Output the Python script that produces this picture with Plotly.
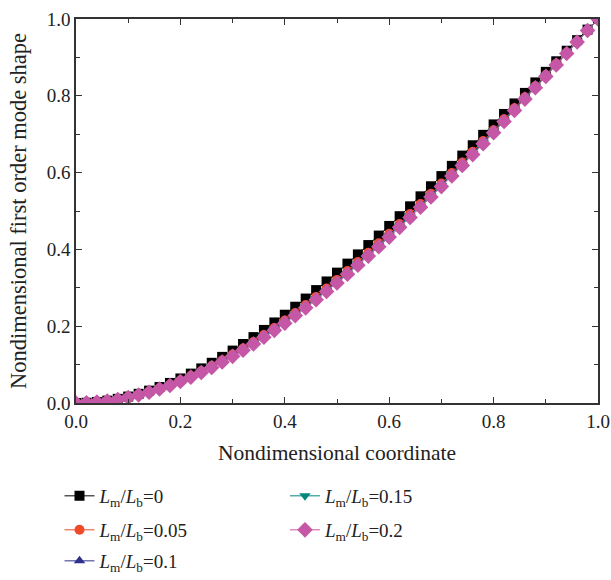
import plotly.graph_objects as go

x_vals = [round(i * 0.02, 2) for i in range(51)]

y_lm_0 = [0.0, 0.0007, 0.0028, 0.0062, 0.0108, 0.0168, 0.0239, 0.0322, 0.0417, 0.0523,
          0.0639, 0.0765, 0.0901, 0.1047, 0.1201, 0.1365, 0.1536, 0.1716, 0.1903, 0.2098,
          0.2299, 0.2507, 0.2720, 0.2940, 0.3165, 0.3395, 0.3630, 0.3870, 0.4113, 0.4360,
          0.4611, 0.4865, 0.5122, 0.5382, 0.5644, 0.5909, 0.6175, 0.6443, 0.6712, 0.6983,
          0.7255, 0.7527, 0.7801, 0.8075, 0.8349, 0.8624, 0.8899, 0.9174, 0.9449, 0.9724, 1.0]

y_lm_005 = [0.0, 0.0006, 0.0025, 0.0056, 0.0098, 0.0152, 0.0217, 0.0293, 0.0380, 0.0477,
            0.0584, 0.0701, 0.0827, 0.0962, 0.1107, 0.1260, 0.1421, 0.1591, 0.1769, 0.1954,
            0.2146, 0.2345, 0.2551, 0.2763, 0.2982, 0.3206, 0.3436, 0.3672, 0.3912, 0.4157,
            0.4407, 0.4661, 0.4920, 0.5183, 0.5448, 0.5717, 0.5990, 0.6265, 0.6542, 0.6822,
            0.7105, 0.7388, 0.7674, 0.7962, 0.8251, 0.8541, 0.8832, 0.9123, 0.9415, 0.9707, 1.0]

y_lm_01 = [0.0, 0.0006, 0.0025, 0.0055, 0.0096, 0.0150, 0.0213, 0.0288, 0.0375, 0.0470,
           0.0576, 0.0691, 0.0816, 0.0950, 0.1093, 0.1245, 0.1405, 0.1573, 0.1749, 0.1933,
           0.2124, 0.2322, 0.2526, 0.2738, 0.2955, 0.3179, 0.3408, 0.3644, 0.3883, 0.4128,
           0.4378, 0.4632, 0.4891, 0.5154, 0.5420, 0.5690, 0.5963, 0.6239, 0.6518, 0.6799,
           0.7083, 0.7369, 0.7656, 0.7946, 0.8237, 0.8529, 0.8822, 0.9116, 0.9410, 0.9705, 1.0]

y_lm_015 = [0.0, 0.0006, 0.0024, 0.0054, 0.0095, 0.0147, 0.0210, 0.0284, 0.0369, 0.0464,
            0.0568, 0.0682, 0.0806, 0.0938, 0.1080, 0.1230, 0.1388, 0.1555, 0.1730, 0.1913,
            0.2102, 0.2299, 0.2502, 0.2712, 0.2929, 0.3152, 0.3381, 0.3615, 0.3855, 0.4099,
            0.4349, 0.4603, 0.4862, 0.5126, 0.5392, 0.5662, 0.5937, 0.6214, 0.6493, 0.6776,
            0.7062, 0.7349, 0.7638, 0.7930, 0.8223, 0.8517, 0.8813, 0.9108, 0.9405, 0.9702, 1.0]

y_lm_02 = [0.0, 0.0006, 0.0024, 0.0053, 0.0093, 0.0145, 0.0207, 0.0280, 0.0364, 0.0457,
           0.0560, 0.0673, 0.0795, 0.0926, 0.1066, 0.1215, 0.1372, 0.1537, 0.1711, 0.1892,
           0.2080, 0.2276, 0.2478, 0.2687, 0.2903, 0.3125, 0.3353, 0.3587, 0.3826, 0.4070,
           0.4320, 0.4574, 0.4833, 0.5097, 0.5364, 0.5635, 0.5910, 0.6188, 0.6469, 0.6753,
           0.7040, 0.7329, 0.7620, 0.7914, 0.8209, 0.8505, 0.8803, 0.9101, 0.9400, 0.9700, 1.0]

series_names = ["<i>L</i><sub>m</sub>/<i>L</i><sub>b</sub>=0",
                "<i>L</i><sub>m</sub>/<i>L</i><sub>b</sub>=0.05",
                "<i>L</i><sub>m</sub>/<i>L</i><sub>b</sub>=0.1",
                "<i>L</i><sub>m</sub>/<i>L</i><sub>b</sub>=0.15",
                "<i>L</i><sub>m</sub>/<i>L</i><sub>b</sub>=0.2"]
series_data = [y_lm_0, y_lm_005, y_lm_01, y_lm_015, y_lm_02]
colors = ["#000000", "#F04A28", "#2E2F8E", "#00877C", "#C557A6"]
symbols = ["square", "circle", "triangle-up", "triangle-down", "diamond"]
sizes = [10, 10, 10, 10, 12]
legend_ids = ["legend", "legend2", "legend3", "legend4", "legend5"]

FONT = "Liberation Serif"

fig = go.Figure()
for i in range(5):
    fig.add_trace(go.Scatter(
        x=x_vals, y=series_data[i], name=series_names[i],
        mode="lines+markers",
        line=dict(color=colors[i], width=1),
        marker=dict(symbol=symbols[i], size=sizes[i], color=colors[i]),
        legend=legend_ids[i], showlegend=True,
    ))

axis_common = dict(
    showline=True, linecolor="#333333", linewidth=1.5, mirror="ticks",
    ticks="inside", ticklen=6, tickwidth=1.2, tickcolor="#333333",
    showgrid=False, zeroline=False, automargin=False,
    tickfont=dict(family=FONT, size=19, color="#222222"),
    minor=dict(ticks="inside", ticklen=4, tickwidth=1.2, tickcolor="#333333", dtick=0.1, showgrid=False),
)

leg_common = dict(font=dict(family=FONT, size=19), bgcolor="rgba(0,0,0,0)", xanchor="left")
col1_x = 0.0974
col2_x = 0.4664

fig.update_layout(
    width=611, height=580,
    showlegend=True,
    margin=dict(l=0, r=0, t=0, b=0),
    plot_bgcolor="white", paper_bgcolor="white",
    font=dict(family=FONT, color="#222222"),
    xaxis=dict(range=[0, 1], dtick=0.2, tick0=0, tickformat=".1f", domain=[0.12439, 0.97872],
               title=dict(text="Nondimensional coordinate", font=dict(family=FONT, size=21.5), standoff=14),
               **axis_common),
    yaxis=dict(range=[0, 1], dtick=0.2, tick0=0, tickformat=".1f", domain=[0.30517, 0.96724],
               title=dict(text="Nondimensional first order mode shape", font=dict(family=FONT, size=22.5), standoff=14),
               **axis_common),
    legend=dict(x=col1_x, y=0.1776, yanchor="top", **leg_common),
    legend2=dict(x=col1_x, y=0.1190, yanchor="top", **leg_common),
    legend3=dict(x=col1_x, y=0.0, yanchor="bottom", **leg_common),
    legend4=dict(x=col2_x, y=0.1776, yanchor="top", **leg_common),
    legend5=dict(x=col2_x, y=0.1190, yanchor="top", **leg_common),
)

fig.write_html("out.html")
